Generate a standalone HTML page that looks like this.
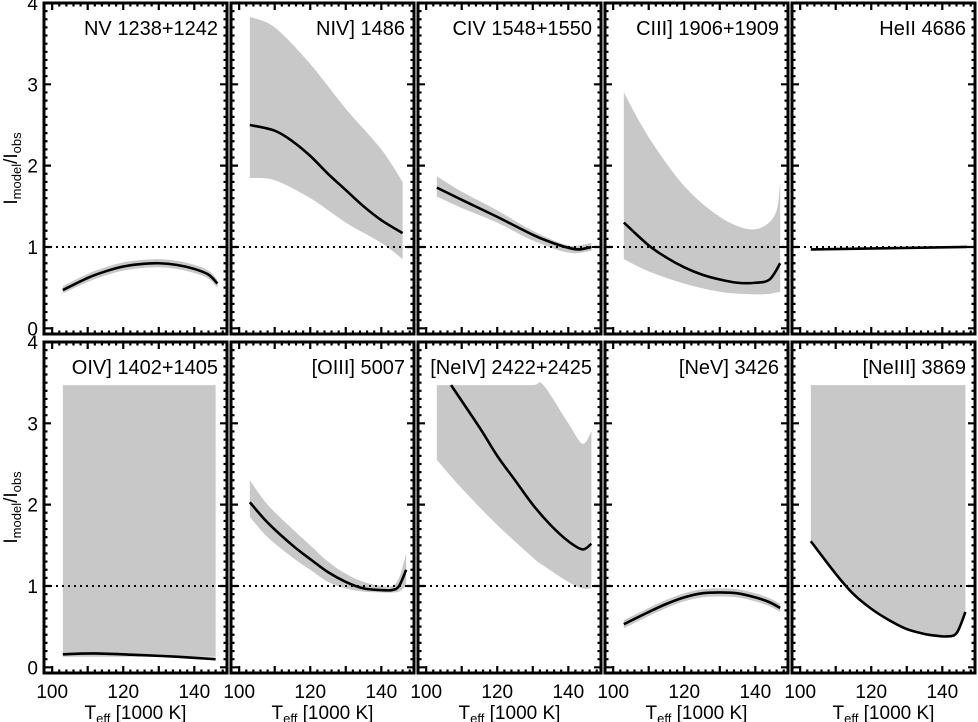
<!DOCTYPE html>
<html><head><meta charset="utf-8"><style>
html,body{margin:0;padding:0;background:#fff;width:978px;height:722px;overflow:hidden}
svg{display:block;font-family:"Liberation Sans",Arial,sans-serif}
</style></head><body>
<svg id="chart" width="978" height="722" viewBox="0 0 978 722" xmlns="http://www.w3.org/2000/svg"></svg>
<script>
const panelTitles = ["NV 1238+1242","NIV] 1486","CIV 1548+1550","CIII] 1906+1909","HeII 4686","OIV] 1402+1405","[OIII] 5007","[NeIV] 2422+2425","[NeV] 3426","[NeIII] 3869"];
const xTickLabels = [100,120,140];
const yTickLabels = [0,1,2,3,4];
const lineT = [
 [103,110,115,120,125,130,135,140,144,146.5],
 [103,110,115,120,125,130,135,140,146],
 [103,110,120,130,135,140,143,146.5],
 [103,110,115,120,125,130,135,140,144,147],
 [103,147],
 [103,112,125,135,146],
 [103,108,115,120,125,130,135,140,143,145,147],
 [107,115,120,125,130,135,140,144,146.5],
 [103,110,115,120,125,130,135,140,144,147],
 [103,110,115,120,125,130,135,138,141,144,146.5]
];
const lineV = [
 [0.47,0.62,0.70,0.76,0.79,0.80,0.78,0.73,0.66,0.55],
 [2.5,2.43,2.3,2.12,1.9,1.7,1.5,1.33,1.17],
 [1.73,1.58,1.37,1.15,1.06,0.99,0.97,1.0],
 [1.3,1.02,0.87,0.75,0.66,0.6,0.56,0.56,0.6,0.8],
 [0.97,1.0],
 [0.16,0.17,0.15,0.13,0.1],
 [2.03,1.78,1.5,1.33,1.17,1.05,0.97,0.95,0.95,1.0,1.2],
 [3.47,2.95,2.6,2.3,2.0,1.75,1.55,1.45,1.52],
 [0.53,0.68,0.78,0.86,0.91,0.92,0.91,0.86,0.8,0.73],
 [1.55,1.15,0.9,0.72,0.58,0.47,0.41,0.39,0.38,0.42,0.68]
];
const bandT = [
 [103,110,115,120,125,130,135,140,144,146.5],
 [103,110,120,130,140,146],
 [103,110,120,130,140,146.5],
 [103,110,120,130,138,143,146,147],
 [],
 [103,146],
 [103,108,115,120,125,130,135,140,143,145,147],
 [103,110,120,130,133,140,144,146.5],
 [103,110,115,120,125,130,135,140,144,147],
 [103,146.5]
];
const bandHi = [
 [0.52,0.67,0.75,0.81,0.84,0.85,0.83,0.78,0.71,0.6],
 [3.83,3.7,3.25,2.7,2.2,1.8],
 [1.87,1.68,1.45,1.2,1.02,1.05],
 [2.9,2.35,1.75,1.37,1.22,1.27,1.45,1.8],
 [],
 [3.47,3.47],
 [2.3,2.0,1.7,1.5,1.3,1.15,1.05,1.0,1.0,1.1,1.4],
 [3.47,3.47,3.47,3.47,3.47,3.0,2.75,2.9],
 [0.58,0.73,0.83,0.91,0.96,0.97,0.96,0.91,0.85,0.78],
 [3.47,3.47]
];
const bandLo = [
 [0.43,0.57,0.65,0.71,0.74,0.75,0.73,0.68,0.61,0.5],
 [1.85,1.82,1.6,1.3,1.05,0.85],
 [1.62,1.48,1.3,1.08,0.93,0.95],
 [0.85,0.7,0.55,0.45,0.42,0.42,0.44,0.45],
 [],
 [0.13,0.13],
 [1.85,1.6,1.35,1.2,1.05,0.97,0.93,0.92,0.92,0.93,1.0],
 [2.55,2.2,1.75,1.35,1.25,1.05,0.97,0.97],
 [0.48,0.63,0.73,0.81,0.86,0.87,0.86,0.81,0.75,0.68],
 [null,null]
];

const NS="http://www.w3.org/2000/svg";
const svg=document.getElementById('chart');
function mk(tag,attrs,parent){const e=document.createElementNS(NS,tag);for(const k in attrs)e.setAttribute(k,attrs[k]);(parent||svg).appendChild(e);return e;}
// Catmull-Rom smoothing of pixel points into path segments (without initial M)
function smooth(pts){
  if(pts.length<3) return pts.slice(1).map(p=>`L${p[0]},${p[1]}`).join('');
  let s='';
  for(let i=0;i<pts.length-1;i++){
    const p0=pts[Math.max(0,i-1)],p1=pts[i],p2=pts[i+1],p3=pts[Math.min(pts.length-1,i+2)];
    const c1=[p1[0]+(p2[0]-p0[0])/6,p1[1]+(p2[1]-p0[1])/6];
    const c2=[p2[0]-(p3[0]-p1[0])/6,p2[1]-(p3[1]-p1[1])/6];
    s+=`C${c1[0]},${c1[1]} ${c2[0]},${c2[1]} ${p2[0]},${p2[1]}`;
  }
  return s;
}
const lefts=[44,231,418,605,792], W=183;
const tops=[3,342], H=331;
const XMIN=97.7, XMAX=149.2, YMIN=-0.07, YMAX=4;
for(let p=0;p<10;p++){
  const col=p%5,row=Math.floor(p/5);
  const L=lefts[col],T=tops[row];
  const sx=v=>L+(v-XMIN)/(XMAX-XMIN)*W;
  const sy=v=>T+(YMAX-v)/(YMAX-YMIN)*H;
  const g=mk('g',{});
  
  
  const linePts=lineT[p].map((t,i)=>[sx(t),sy(lineV[p][i])]);
  if(bandT[p].length){
    const hi=bandT[p].map((t,i)=>[sx(t),sy(bandHi[p][i])]);
    let lo;
    if(bandLo[p][0]===null) lo=linePts.slice();
    else lo=bandT[p].map((t,i)=>[sx(t),sy(bandLo[p][i])]);
    lo.reverse();
    const dd=`M${hi[0][0]},${hi[0][1]}`+smooth(hi)+`L${lo[0][0]},${lo[0][1]}`+smooth(lo)+'Z';
    const b=mk('path',{d:dd,fill:'#c8c8c8'},g);
    
    
  }
  const d=mk('line',{x1:L,x2:L+W,y1:sy(1),y2:sy(1),stroke:'#000','stroke-width':2,'stroke-dasharray':'2,4'},g);
  
  
  const ln=mk('path',{d:`M${linePts[0][0]},${linePts[0][1]}`+smooth(linePts),fill:'none',stroke:'#000','stroke-width':2.6,'stroke-linejoin':'round'},g);
  
  
  let tk='';
  for(let x=100;x<=148;x+=2){const X=sx(x);const len=(x%10===0)?7:3.5;tk+=`M${X},${T+H}v${-len}M${X},${T}v${len}`;}
  for(let i=0;i<=40;i++){const v=i/10;const Y=sy(v);const len=(i%10===0)?7:3.5;tk+=`M${L},${Y}h${len}M${L+W},${Y}h${-len}`;}
  mk('path',{d:tk,stroke:'#000','stroke-width':2.2,fill:'none'},g);
  const fr=mk('rect',{x:L,y:T,width:W,height:H,fill:'none',stroke:'#000','stroke-width':3},g);
  
  
  const tt=mk('text',{x:L+W-9,y:T+32,'text-anchor':'end','font-size':20},g);
  tt.textContent=panelTitles[p];
  
  
  if(col===0){
    yTickLabels.forEach(v=>{const t=mk('text',{x:L-6,y:sy(v)+7,'text-anchor':'end','font-size':19},g);t.textContent=v;
      
      });
    const yl=mk('text',{transform:`translate(17,${T+H/2}) rotate(-90)`,'text-anchor':'middle','font-size':19},g);
    yl.innerHTML='I<tspan font-size="13" dy="4">model</tspan><tspan dy="-4">/I</tspan><tspan font-size="13" dy="4">obs</tspan>';
    
    
  }
  if(row===1){
    xTickLabels.forEach(v=>{const t=mk('text',{x:sx(v),y:698,'text-anchor':'middle','font-size':19},g);t.textContent=v;
      
      });
    const xl=mk('text',{x:L+W/2,y:719,'text-anchor':'middle','font-size':19},g);
    xl.innerHTML='T<tspan font-size="13" dy="4">eff</tspan><tspan dy="-4"> [1000 K]</tspan>';
    
    
  }
}
</script>
</body></html>
